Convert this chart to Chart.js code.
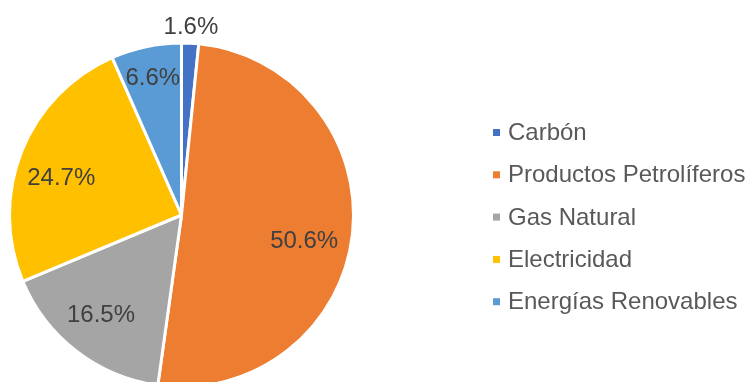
<!DOCTYPE html>
<html lang="es">
<head>
<meta charset="utf-8">
<script src="https://cdn.jsdelivr.net/npm/chart.js@4/dist/chart.umd.min.js"></script>
<style>
  html, body { margin: 0; padding: 0; background: #ffffff; }
  #wrap { position: relative; width: 747px; height: 382px; overflow: hidden; }
  #chart { display: block; }
</style>
</head>
<body>
<div id="wrap"><canvas id="chart" width="747" height="430"></canvas></div>
<script>
// Consumo final de energía por fuente (%)
const categories = ['Carbón', 'Productos Petrolíferos', 'Gas Natural', 'Electricidad', 'Energías Renovables'];
const shares = [1.6, 50.6, 16.5, 24.7, 6.6];
const sliceColors = ['#4472C4', '#ED7D31', '#A5A5A5', '#FFC000', '#5B9BD5'];

const FONT = '"Liberation Sans", Arial, sans-serif';

// Percentage labels placed along each slice's mid angle
const sliceLabels = {
  id: 'sliceLabels',
  afterDatasetsDraw(chart, args, opts) {
    const { ctx } = chart;
    const meta = chart.getDatasetMeta(0);
    ctx.save();
    ctx.font = `${opts.size}px ${FONT}`;
    ctx.fillStyle = opts.color;
    ctx.textAlign = 'center';
    ctx.textBaseline = 'middle';
    meta.data.forEach((arc, i) => {
      const { x, y, startAngle, endAngle, outerRadius } = arc.getProps(['x', 'y', 'startAngle', 'endAngle', 'outerRadius'], true);
      const mid = (startAngle + endAngle) / 2 + (opts.angleShift[i] || 0) * Math.PI / 180;
      const r = outerRadius * opts.radius[i];
      const v = chart.data.datasets[0].data[i];
      ctx.fillText(v.toFixed(1) + '%', x + Math.cos(mid) * r, y + Math.sin(mid) * r);
    });
    ctx.restore();
  }
};

// Legend column to the right of the pie
const sideLegend = {
  id: 'sideLegend',
  afterDraw(chart, args, opts) {
    const { ctx } = chart;
    const ds = chart.data.datasets[0];
    ctx.save();
    ctx.font = `${opts.size}px ${FONT}`;
    ctx.textAlign = 'left';
    ctx.textBaseline = 'middle';
    chart.data.labels.forEach((label, i) => {
      const cy = opts.top + i * opts.step;
      ctx.fillStyle = ds.backgroundColor[i];
      ctx.fillRect(opts.x, cy - opts.box / 2, opts.box, opts.box);
      ctx.fillStyle = opts.color;
      ctx.fillText(label, opts.x + opts.box + opts.gap, cy + 1);
    });
    ctx.restore();
  }
};

new Chart(document.getElementById('chart'), {
  type: 'pie',
  data: {
    labels: categories,
    datasets: [{
      data: shares,
      backgroundColor: sliceColors,
      borderColor: '#ffffff',
      borderWidth: 3
    }]
  },
  options: {
    responsive: false,
    animation: false,
    events: [],
    layout: { padding: { left: 8, right: 392, top: 41.5, bottom: 41.5 } },
    plugins: {
      legend: { display: false },
      tooltip: { enabled: false },
      sliceLabels: {
        size: 24,
        color: '#404040',
        radius: [1.09, 0.73, 0.75, 0.73, 0.81],
        angleShift: [0, 5.5, 1, -5, 0]
      },
      sideLegend: {
        x: 493, top: 132.5, step: 42.3, box: 7, gap: 8,
        size: 24, color: '#595959'
      }
    }
  },
  plugins: [sliceLabels, sideLegend]
});
</script>
</body>
</html>
